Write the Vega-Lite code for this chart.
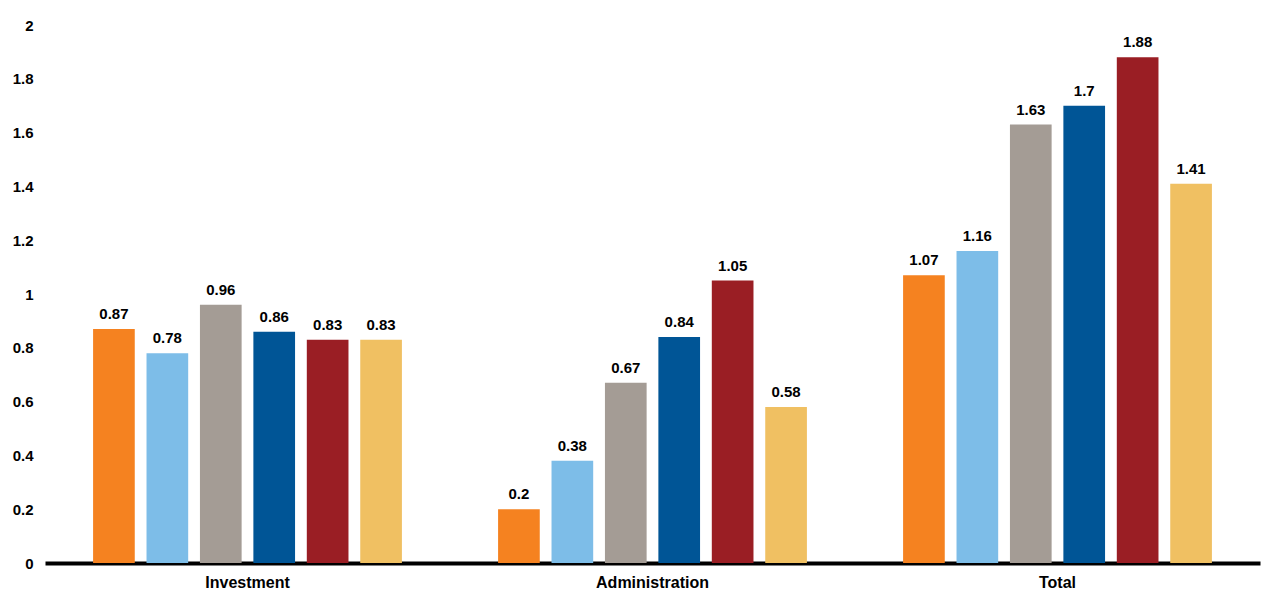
{
  "$schema": "https://vega.github.io/schema/vega-lite/v6.json",
  "autosize": "none",
  "width": 1215,
  "height": 538,
  "padding": {"left": 45, "top": 25, "right": 3, "bottom": 49},
  "background": "white",
  "config": {
    "view": {"stroke": null},
    "font": "Liberation Sans",
    "axis": {"labelFont": "Liberation Sans", "labelFontWeight": "bold", "labelColor": "black", "labelFontSize": 15, "grid": false, "ticks": false, "tickSize": 0, "title": null}
  },
  "data": {
    "values": [
      {"category": "Investment", "series": "s1", "value": 0.87},
      {"category": "Investment", "series": "s2", "value": 0.78},
      {"category": "Investment", "series": "s3", "value": 0.96},
      {"category": "Investment", "series": "s4", "value": 0.86},
      {"category": "Investment", "series": "s5", "value": 0.83},
      {"category": "Investment", "series": "s6", "value": 0.83},
      {"category": "Administration", "series": "s1", "value": 0.2},
      {"category": "Administration", "series": "s2", "value": 0.38},
      {"category": "Administration", "series": "s3", "value": 0.67},
      {"category": "Administration", "series": "s4", "value": 0.84},
      {"category": "Administration", "series": "s5", "value": 1.05},
      {"category": "Administration", "series": "s6", "value": 0.58},
      {"category": "Total", "series": "s1", "value": 1.07},
      {"category": "Total", "series": "s2", "value": 1.16},
      {"category": "Total", "series": "s3", "value": 1.63},
      {"category": "Total", "series": "s4", "value": 1.7},
      {"category": "Total", "series": "s5", "value": 1.88},
      {"category": "Total", "series": "s6", "value": 1.41}
    ]
  },
  "encoding": {
    "x": {
      "field": "category",
      "type": "nominal",
      "sort": ["Investment", "Administration", "Total"],
      "scale": {"paddingInner": 0, "paddingOuter": 0},
      "axis": {"labelAngle": 0, "domain": true, "domainColor": "black", "domainWidth": 4, "labelPadding": 11, "labelFontSize": 16}
    },
    "xOffset": {
      "field": "series",
      "type": "nominal",
      "scale": {"paddingInner": 0.22, "paddingOuter": 0.9}
    },
    "y": {
      "field": "value",
      "type": "quantitative",
      "scale": {"domain": [0, 2]},
      "axis": {"values": [0, 0.2, 0.4, 0.6, 0.8, 1, 1.2, 1.4, 1.6, 1.8, 2], "format": "~g", "domain": false, "labelPadding": 12}
    }
  },
  "layer": [
    {
      "mark": {"type": "bar"},
      "encoding": {
        "color": {
          "field": "series",
          "type": "nominal",
          "scale": {"range": ["#F58220", "#7DBDE8", "#A49C95", "#005596", "#9A1E24", "#F0C062"]},
          "legend": null
        }
      }
    },
    {
      "mark": {"type": "text", "baseline": "alphabetic", "dy": -10, "fontSize": 15, "fontWeight": "bold", "color": "black"},
      "encoding": {
        "text": {"field": "value", "type": "quantitative"}
      }
    }
  ]
}
